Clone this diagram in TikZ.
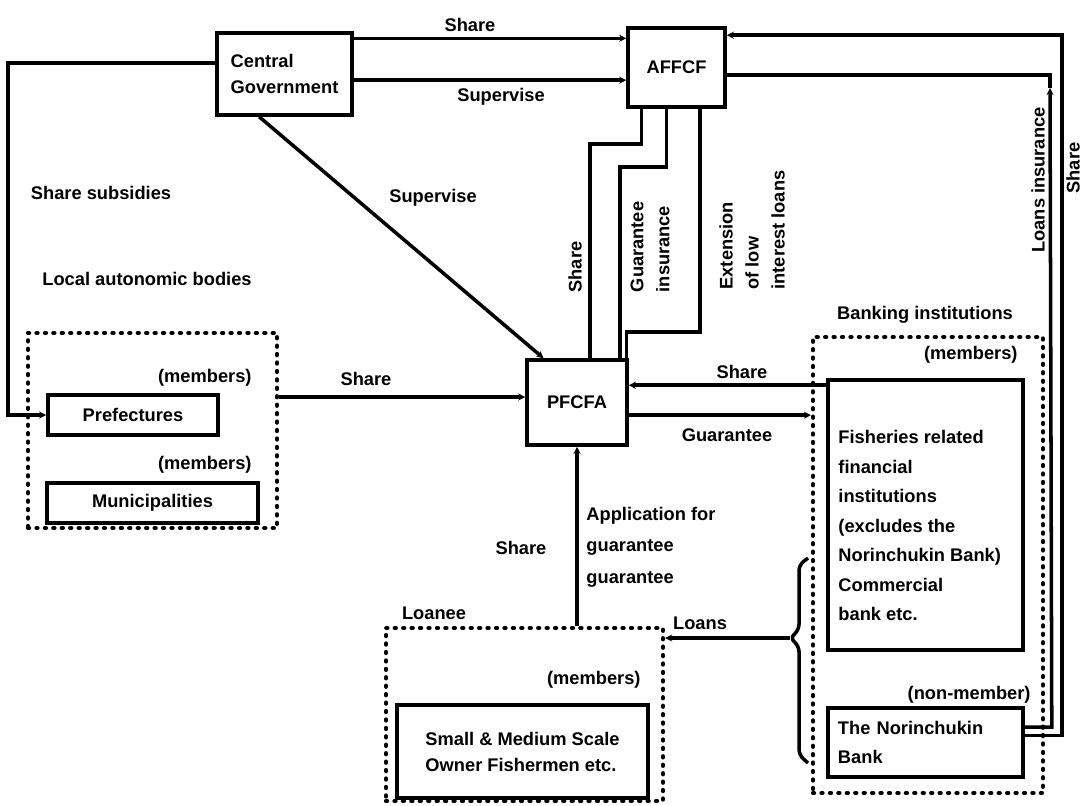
\documentclass[tikz,border=0pt]{standalone}
\usepackage{fontspec}
\setmainfont{Liberation Sans}
\usetikzlibrary{arrows.meta, fit, positioning}

\begin{document}
\begin{tikzpicture}[x=0.025cm, y=-0.025cm, >={Stealth[length=5pt,width=5pt]},
		line width=2.5pt, font=\fontsize{13}{18.5}\selectfont\bfseries,
		box/.style={draw, inner sep=0pt, align=left},
		group/.style={draw, inner sep=0pt, line width=3pt, line cap=round, dash pattern=on 0.8pt off 5.2pt}]
		\useasboundingbox (0,0) rectangle (1082,805);
		
		% 各机构方框
		\node[box, minimum width=3.375cm, minimum height=2.05cm] (cg) at (284.5,74) {Central\\Government};
		\node[box, minimum width=2.425cm, minimum height=1.975cm] (affcf) at (676.5,67.5) {AFFCF};
		\node[box, minimum width=2.5cm, minimum height=2.125cm] (pfcfa) at (577,402.5) {PFCFA};
		\node[box, minimum width=4.25cm, minimum height=1cm] (pref) at (133,415) {Prefectures};
		\node[box, minimum width=5.275cm, minimum height=1cm] (muni) at (152.5,503) {Municipalities};
		\node[box, minimum width=4.875cm, minimum height=6.75cm] (fish) at (925.5,515) {};
		\node[anchor=north west, align=left, font=\fontsize{13}{21}\selectfont\bfseries] (fishtxt) at (832,424)
			{Fisheries related\\financial\\institutions\\(excludes the\\Norinchukin Bank)\\Commercial\\bank etc.};
		\node[box, minimum width=4.875cm, minimum height=1.725cm, text width=4.375cm,
			font=\fontsize{13}{20}\selectfont\bfseries] (nori) at (925.5,742.5) {The Norinchukin\\Bank};
		\node[box, minimum width=6.275cm, minimum height=2.325cm] (fisher) at (522.5,751.5) {Small \& Medium Scale\\Owner Fishermen etc.};
		
		% 虚线分组
		\node[group, fit={(28,333) (277,528)}] (local) {};
		\node[group, fit={(813,337) (1043,793)}] (bankgrp) {};
		\node[group, fit={(386,628) (663,801)}] (loanee) {};
		
		% 中央政府
		\draw[->] ([yshift=-5pt]cg.north east) -- ([yshift=-5pt]cg.north east -| affcf.west);
		\draw[->] ([yshift=26pt]cg.south east) -- ([yshift=26pt]cg.south east -| affcf.west);
		\draw[->] ([yshift=8pt]cg.west) -- ++(-207,0) |- (pref.west);
		\draw[->] ([xshift=-18pt]cg.south) -- ([xshift=13pt]pfcfa.north west);
		
		% AFFCF 与 PFCFA 之间
		\draw ([xshift=10.7pt]affcf.south west) -- ++(0,35) -| ([xshift=46pt]pfcfa.north west);
		\draw ([xshift=28.5pt]affcf.south west) -- ++(0,58) -| ([xshift=-6.4pt]pfcfa.north east);
		\draw ([xshift=52.6pt]affcf.south west) -- ++(0,223) -| ([xshift=-1.5pt]pfcfa.north east);
		
		% 农林中金 -> AFFCF
		\coordinate (li) at (1050,88);
		\draw[->] ([yshift=5pt]nori.east) -- ++(37,0) |- ([yshift=-6.4pt]affcf.north east);
		\draw[->] ([yshift=11pt]nori.east) -- ++(27,0) -- (li);
		\draw (li) |- ([yshift=-5.3pt]affcf.east);
		
		% PFCFA 周围
		\draw[->] (local.east |- 0,397) -- (pfcfa.west |- 0,397);
		\draw[->] ([yshift=-5pt]fish.north west) -- ([yshift=-5pt]fish.north west -| pfcfa.east);
		\draw[->] ([yshift=-9pt]pfcfa.east) -- ([yshift=-9pt]pfcfa.east -| bankgrp.west);
		\draw[->] (pfcfa.south |- loanee.north) -- (pfcfa.south);
		
		% 贷款括号
		\coordinate (brk) at (790,638);
		\draw[rounded corners=4pt] (808,558) -- (799,565) -- (799,630) -- (brk) -- (799,646) -- (799,755) -- (808,763);
		\draw[->] (brk) -- (brk -| loanee.east);
		
		% 文字标注
		\node at (470,25) {Share};
		\node at (501,97) {Supervise};
		\node at (101,193) {Share subsidies};
		\node at (433,198) {Supervise};
		\node at (147,279) {Local autonomic bodies};
		\node[anchor=east] at (258,378) {(members)};
		\node[anchor=east] at (258,465) {(members)};
		\node at (366,379) {Share};
		\node[rotate=90] at (575,267) {Share};
		\node[rotate=90, align=left] at (650,247) {Guarantee\\insurance};
		\node[rotate=90, align=left] at (752,230) {Extension\\of low\\interest loans};
		\node[rotate=90] at (1038,180) {Loans insurance};
		\node[rotate=90, inner sep=1pt] at (1073,168) {Share};
		\node at (925,315) {Banking institutions};
		\node[anchor=east] at (1024,355) {(members)};
		\node at (742,372) {Share};
		\node at (727,435) {Guarantee};
		\node[anchor=west, align=left, font=\fontsize{13}{22.5}\selectfont\bfseries] at (580,547) {Application for\\guarantee\\guarantee};
		\node at (521,548) {Share};
		\node at (434,613) {Loanee};
		\node at (700,623) {Loans};
		\node[anchor=east] at (647,680) {(members)};
		\node[anchor=east] at (1037,695) {(non-member)};
	\end{tikzpicture}
\end{document}
